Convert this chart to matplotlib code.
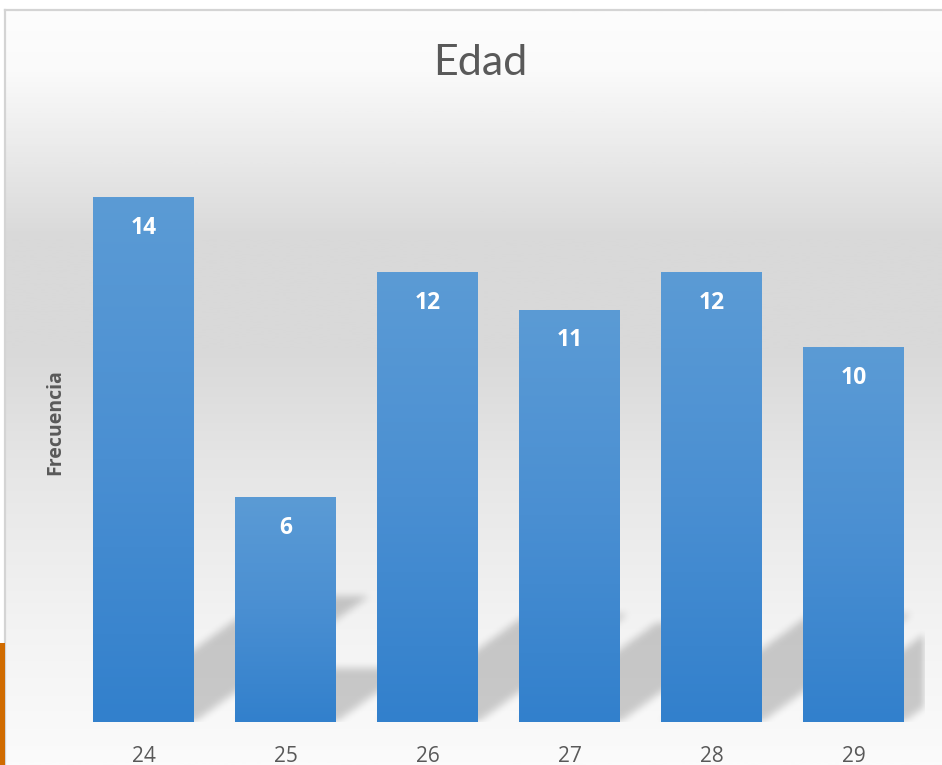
import numpy as np
import matplotlib
matplotlib.use("Agg")
import matplotlib.pyplot as plt
from matplotlib.colors import LinearSegmentedColormap
from matplotlib.patches import Rectangle

edades = ["24", "25", "26", "27", "28", "29"]
frecuencia = [14, 6, 12, 11, 12, 10]

W, H = 942, 765
fig = plt.figure(figsize=(W / 100, H / 100), dpi=100)
fig.patch.set_facecolor("white")

# chart area background (gradient), frame starts at (5, 10) px
bg = fig.add_axes([5 / W, 0, 1 - 5 / W, (H - 10) / H], zorder=0)
bg_cmap = LinearSegmentedColormap.from_list(
    "bg",
    [(0.0, "#fdfdfd"), (0.08, "#fafafa"), (0.30, "#d9d9d9"), (0.45, "#d9d9d9"),
     (0.62, "#e7e7e7"), (0.82, "#f3f3f3"), (1.0, "#fbfbfb")])
grad = np.linspace(0, 1, 400).reshape(-1, 1)
bg.imshow(grad, aspect="auto", cmap=bg_cmap, extent=(0, 1, 1, 0))
bg.set_xlim(0, 1)
bg.set_ylim(1, 0)
bg.set_xticks([])
bg.set_yticks([])
for s in ["right", "bottom"]:
    bg.spines[s].set_visible(False)
for s in ["left", "top"]:
    bg.spines[s].set_color("#d4d4d4")
    bg.spines[s].set_linewidth(1.6)

# orange strip at the left edge
fig.patches.append(Rectangle((0, 0), 5 / W, (H - 643) / H, transform=fig.transFigure,
                             facecolor="#d06b00", edgecolor="none", zorder=1))

# main axes
ax = fig.add_axes([72.5 / W, (H - 722) / H, 852 / W, 600 / H], zorder=2)
ax.patch.set_alpha(0)
x = np.arange(len(edades))
bw = 0.711
ymax = 16
ax.set_xlim(-0.5, len(edades) - 0.5)
ax.set_ylim(0, ymax)

# perspective shadows (blurred)
nx, ny = 852, 600
gx = np.linspace(-0.5, len(edades) - 0.5, nx)
gy = np.linspace(0, ymax, ny)
XX, YY = np.meshgrid(gx, gy)
mask = np.zeros_like(XX)
k = 0.3667
for xi, h in zip(x, frecuencia):
    x0, x1 = xi - bw / 2, xi + bw / 2
    m = (YY >= 0) & (YY <= 0.24 * h) & (XX >= x0 + k * YY) & (XX <= x1 + k * YY)
    mask[m] = 1.0
ker = np.ones(9) / 9
for _ in range(2):
    mask = np.apply_along_axis(lambda r: np.convolve(r, ker, mode="same"), 1, mask)
    mask = np.apply_along_axis(lambda c: np.convolve(c, ker, mode="same"), 0, mask)
shadow = np.zeros((ny, nx, 4))
shadow[..., 3] = 0.19 * mask
ax.imshow(shadow, origin="lower", aspect="auto",
          extent=(-0.5, len(edades) - 0.5, 0, ymax), zorder=1)

# bars with vertical gradient
bar_cmap = LinearSegmentedColormap.from_list("bar", ["#3280cc", "#4a8fd2", "#5b9bd5"])
bars = ax.bar(x, frecuencia, width=bw, color="#4a8fd2", zorder=2)
for b, h in zip(bars, frecuencia):
    g = np.linspace(0, 1, 256).reshape(-1, 1)
    im = ax.imshow(g, origin="lower", aspect="auto", cmap=bar_cmap,
                   extent=(b.get_x(), b.get_x() + b.get_width(), 0, h), zorder=3)
    im.set_clip_path(b)
    ax.annotate(str(h), (b.get_x() + b.get_width() / 2, h), xytext=(0, -22),
                textcoords="offset points", ha="center", va="center",
                color="white", fontsize=16.5, fontweight="bold", family="Open Sans",
                zorder=4)

ax.set_xlim(-0.5, len(edades) - 0.5)
ax.set_ylim(0, ymax)
ax.set_xticks(x)
ax.set_xticklabels(edades, fontsize=15, color="#595959", family="Open Sans")
ax.tick_params(axis="x", length=0, pad=17)
ax.set_yticks([])
for s in ax.spines.values():
    s.set_visible(False)

fig.text(55 / W, 1 - 422 / H, "Frecuencia", rotation=90, ha="center", va="center",
         fontsize=14, fontweight="bold", color="#595959", family="Open Sans")
fig.text(480 / W, 1 - 63 / H, "Edad", ha="center", va="center",
         fontsize=31, color="#595959", family="Lato")

fig.savefig("out.png", dpi=100)
